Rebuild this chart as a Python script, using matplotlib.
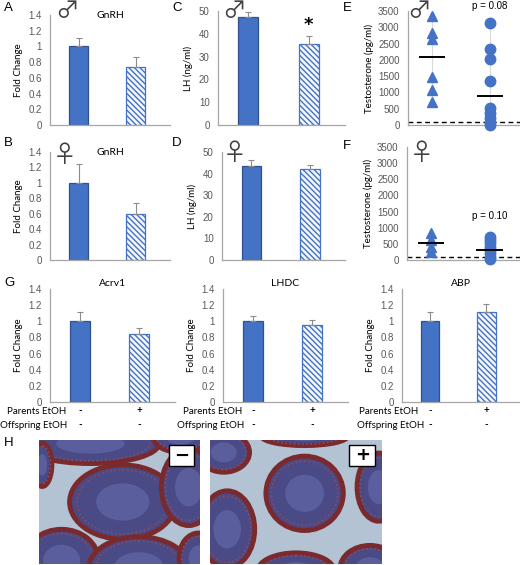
import matplotlib
matplotlib.use('Agg')
import matplotlib.pyplot as plt
from matplotlib.patches import Ellipse, Rectangle
from matplotlib.ticker import FuncFormatter
import numpy as np

# ---------------- data ----------------
groups = ['-', '+']
gnrh_male = [1.0, 0.74]
gnrh_male_err = [0.11, 0.12]
gnrh_female = [1.0, 0.60]
gnrh_female_err = [0.25, 0.14]
lh_male = [47.5, 35.5]
lh_male_err = [2.0, 3.5]
lh_female = [43.5, 42.0]
lh_female_err = [3.0, 2.0]

testo_male_ctrl = [3340, 2810, 2630, 1460, 1080, 720]
testo_male_etoh = [3140, 2320, 2020, 1350, 510, 360, 210, 80, 0]
testo_male_means = [2080, 900]
testo_female_ctrl = [830, 620, 410, 260]
testo_female_etoh = [720, 620, 520, 410, 310, 210, 100, 20]
testo_female_means = [520, 300]
detect_limit = 100

acrv1 = [1.0, 0.84]
acrv1_err = [0.12, 0.08]
lhdc = [1.0, 0.95]
lhdc_err = [0.06, 0.07]
abp = [1.0, 1.12]
abp_err = [0.11, 0.09]
parents_etoh = ['-', '+']
offspring_etoh = ['-', '-']

# ---------------- style ----------------
W, H = 520, 565
fig = plt.figure(figsize=(5.2, 5.65), dpi=100)
plt.rcParams['hatch.linewidth'] = 1.0

BLUE = '#4472C4'
EDGE = '#2F528F'
EGRAY = '#8C8C8C'
SPINE = '#A6A6A6'
TICKC = '#595959'
LBL = 'Lato'
TFONT = 'Liberation Sans'


def axpx(l, t, r, b):
    return fig.add_axes([l / W, 1 - b / H, (r - l) / W, (b - t) / H])


def style(ax, ymax, step, fmt):
    for s in ['top', 'right']:
        ax.spines[s].set_visible(False)
    for s in ['left', 'bottom']:
        ax.spines[s].set_color(SPINE)
        ax.spines[s].set_linewidth(0.9)
    ax.set_ylim(0, ymax)
    ax.set_yticks(np.arange(0, ymax + step / 2, step))
    ax.yaxis.set_major_formatter(FuncFormatter(lambda v, p: fmt % v))
    ax.tick_params(axis='y', length=0, labelsize=7, labelcolor=TICKC, pad=6)
    for t in ax.get_yticklabels():
        t.set_fontfamily(TFONT)
    ax.set_xticks([])


def barpanel(ax, vals, errs, ymax, step, fmt, ylabel, title=None, title_y=1.0):
    x = np.arange(len(vals))
    bars = ax.bar(x, vals, 0.33, color=[BLUE, '#F4F7FC'], edgecolor=[EDGE, BLUE], linewidth=0.9)
    bars[1].set_hatch('\\\\\\\\\\\\')
    ax.errorbar(x, vals, yerr=[np.zeros(len(errs)), errs], fmt='none', ecolor=EGRAY,
                elinewidth=0.8, capsize=2.5, capthick=0.8)
    ax.set_xlim(-0.5, 1.6)
    style(ax, ymax, step, fmt)
    ax.set_ylabel(ylabel, fontsize=7, fontfamily=LBL, labelpad=4)
    if title:
        ax.text(0.5, title_y, title, transform=ax.transAxes, ha='center', va='center',
                fontsize=7.5, fontfamily=LBL)


# A
axA = axpx(50, 15, 170, 125)
barpanel(axA, gnrh_male, gnrh_male_err, 1.4, 0.2, '%g', 'Fold Change', 'GnRH', 1.0)
# B
axB = axpx(50, 152, 170, 260)
barpanel(axB, gnrh_female, gnrh_female_err, 1.4, 0.2, '%g', 'Fold Change', 'GnRH', 1.0)
# C
axC = axpx(218, 11, 345, 125)
barpanel(axC, lh_male, lh_male_err, 50, 10, '%g', 'LH (ng/ml)')
axC.text(1, 44, '*', ha='center', va='center', fontsize=13, fontweight='bold')
# D
axD = axpx(222, 152, 345, 260)
barpanel(axD, lh_female, lh_female_err, 50, 10, '%g', 'LH (ng/ml)')


def scatterpanel(ax, ctrl, etoh, means, ptext, py):
    for xi, data, mk in [(0, ctrl, '^'), (1, etoh, 'o')]:
        ax.plot([xi, xi], [min(data), max(data)], color='#D9D9D9', lw=0.8, zorder=1)
        ax.plot([xi] * len(data), data, linestyle='none', marker=mk, markersize=7.5,
                color=BLUE, markeredgecolor=BLUE, clip_on=False, zorder=3)
        ax.plot([xi - 0.21, xi + 0.21], [means[xi], means[xi]], color='black', lw=1.4, zorder=4)
    ax.axhline(detect_limit, color='black', lw=1.0, ls=(0, (3.5, 2.5)), zorder=2)
    ax.set_xlim(-0.41, 1.52)
    style(ax, 3500, 500, '%g')
    ax.set_ylabel('Testosterone (pg/ml)', fontsize=7, fontfamily=LBL, labelpad=3)
    ax.text(1, py, ptext, ha='center', va='center', fontsize=7, fontfamily=TFONT, clip_on=False)


axE = axpx(408, 11, 520, 125)
scatterpanel(axE, testo_male_ctrl, testo_male_etoh, testo_male_means, 'p = 0.08', 3640)
axF = axpx(407, 147, 520, 260)
scatterpanel(axF, testo_female_ctrl, testo_female_etoh, testo_female_means, 'p = 0.10', 1360)

# G panels
g_specs = [((50, 289, 175, 402), acrv1, acrv1_err, 'Acrv1', (7, 0)),
           ((223, 289, 348, 402), lhdc, lhdc_err, 'LHDC', (183, 177)),
           ((402, 289, 520, 402), abp, abp_err, 'ABP', (359, 357))]
for (l, t, r, b), vals, errs, title, (px, ox) in g_specs:
    ax = axpx(l, t, r, b)
    barpanel(ax, vals, errs, 1.4, 0.2, '%g', 'Fold Change', title, 1.05)
    tr = ax.get_xaxis_transform()
    for i in range(2):
        ax.text(i, -(411 - 402) / 113, parents_etoh[i], transform=tr, ha='center', va='center',
                fontsize=7, fontfamily=LBL, fontweight='bold')
        ax.text(i, -(425 - 402) / 113, offspring_etoh[i], transform=tr, ha='center', va='center',
                fontsize=7, fontfamily=LBL, fontweight='bold')
    fig.text(px / W, 1 - 411 / H, 'Parents EtOH', ha='left', va='center', fontsize=7, fontfamily=LBL)
    fig.text(ox / W, 1 - 425 / H, 'Offspring EtOH', ha='left', va='center', fontsize=7, fontfamily=LBL)

# H: schematic histology sections (seminiferous tubules)
left_tubules = [(0.52, 0.50, 0.66, 0.60), (0.32, 0.03, 0.85, 0.32), (0.93, 0.38, 0.34, 0.62),
                (0.14, 0.97, 0.46, 0.50), (0.62, 1.03, 0.62, 0.50), (0.99, 0.95, 0.24, 0.40),
                (0.88, -0.02, 0.34, 0.24), (0.02, 0.20, 0.12, 0.35)]
right_tubules = [(0.55, 0.43, 0.45, 0.60), (0.10, 0.72, 0.32, 0.62), (0.08, 0.10, 0.30, 0.32),
                 (0.98, 0.38, 0.25, 0.55), (0.50, 1.06, 0.45, 0.30), (0.93, 1.04, 0.35, 0.38),
                 (0.55, -0.03, 0.50, 0.15)]
for (l, t, r, b), tubs, sign in [((39, 440, 200, 564), left_tubules, '\u2212'),
                                  ((210, 440, 382, 564), right_tubules, '+')]:
    ax = axpx(l, t, r, b)
    ax.set_facecolor('#B3C3D3')
    ax.set_xlim(0, 1)
    ax.set_ylim(1, 0)
    for cx, cy, w, h in tubs:
        ax.add_patch(Ellipse((cx, cy), w, h, facecolor='#4A4A86', edgecolor='#7A2A2C', lw=3.5))
        ax.add_patch(Ellipse((cx, cy), w * 0.86, h * 0.86, facecolor='none', edgecolor='#8A4A60',
                             lw=1.2, ls=(0, (1, 1.5))))
        ax.add_patch(Ellipse((cx, cy), w * 0.5, h * 0.5, facecolor='#5A5E9C', edgecolor='none'))
    ax.add_patch(Rectangle((0.81, 0.04), 0.15, 0.17, facecolor='white', edgecolor='black', lw=1.0))
    ax.text(0.885, 0.125, sign, ha='center', va='center', fontsize=13, fontweight='bold',
            family='DejaVu Sans')
    ax.set_xticks([])
    ax.set_yticks([])
    for s in ax.spines.values():
        s.set_visible(False)

# gender symbols
for x, y, s in [(55, 12, '\u2642'), (222, 12, '\u2642'), (407, 12, '\u2642'),
                (53, 155, '\u2640'), (223, 153, '\u2640'), (410, 153, '\u2640')]:
    fig.text(x / W, 1 - y / H, s, ha='left', va='center', fontsize=17,
             family=['Noto Sans CJK JP', 'DejaVu Sans'], color='#404040')

# panel letters
for x, y, s in [(4, 8, 'A'), (4, 143, 'B'), (172, 8, 'C'), (172, 143, 'D'), (343, 8, 'E'),
                (343, 146, 'F'), (4, 283, 'G'), (4, 443, 'H')]:
    fig.text(x / W, 1 - y / H, s, ha='left', va='center', fontsize=9.5, fontfamily=TFONT)

fig.savefig('out.png', dpi=100)
